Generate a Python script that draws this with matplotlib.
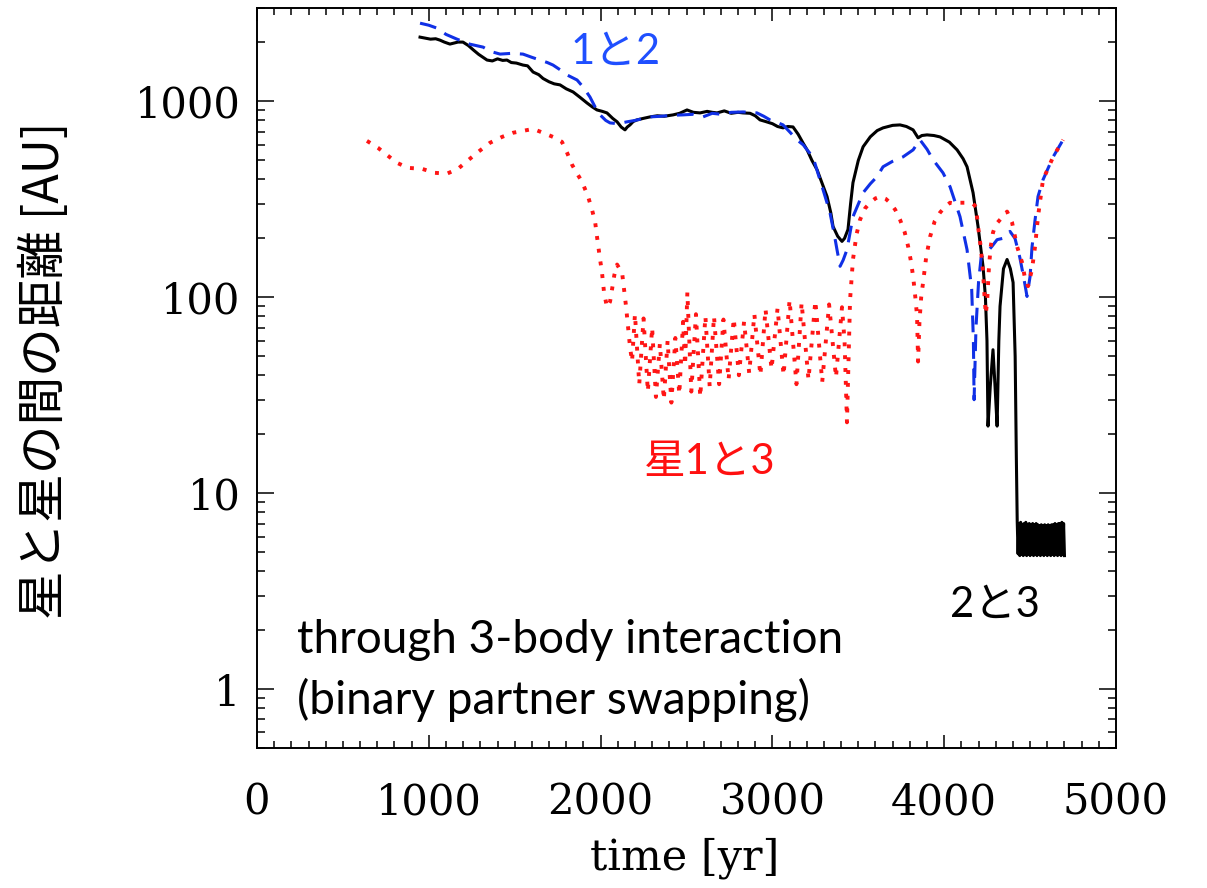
import matplotlib
matplotlib.use("Agg")
import matplotlib.pyplot as plt
from matplotlib.ticker import MultipleLocator, LogLocator, NullFormatter, FuncFormatter, FixedLocator

# ---------------- data ----------------
# black solid: separation of stars 2 and 3
black_t = [949, 985, 1010, 1040, 1065, 1090, 1123, 1150, 1170, 1199, 1230, 1260, 1290, 1339,
           1370, 1400, 1430, 1455, 1480, 1510, 1548, 1575, 1607, 1640, 1665, 1700, 1730, 1764,
           1800, 1840, 1880, 1921, 1950, 1979, 2010, 2037, 2070, 2096, 2120, 2142, 2155, 2171,
           2190, 2212, 2250, 2288, 2330, 2370, 2422, 2460, 2503, 2540, 2579, 2620, 2650, 2678,
           2720, 2760, 2800, 2829, 2870, 2900, 2928, 2960, 3000, 3030, 3062, 3090, 3120, 3150,
           3180, 3202, 3230, 3260, 3290, 3318, 3340, 3353, 3380, 3405, 3420, 3440, 3455, 3469,
           3500, 3528, 3570, 3610, 3644, 3700, 3743, 3780, 3819, 3835, 3848, 3870, 3900, 3940,
           3976, 4030, 4075, 4110, 4133, 4168, 4197, 4226, 4240, 4249, 4255, 4268, 4284, 4296,
           4308, 4318, 4325, 4345, 4366, 4385, 4401, 4413, 4420,
           4425, 4430, 4435, 4440, 4445, 4450, 4455, 4460, 4465, 4470, 4475, 4480, 4485, 4490,
           4495, 4500, 4505, 4510, 4515, 4520, 4525, 4530, 4535, 4540, 4545, 4550, 4555, 4560,
           4565, 4570, 4575, 4580, 4585, 4590, 4595, 4600, 4605, 4610, 4615, 4620, 4625, 4630,
           4635, 4640, 4645, 4650, 4655, 4660, 4665, 4670, 4675, 4680, 4685, 4690, 4695, 4700]
black_v = [2130, 2100, 2080, 2090, 2056, 2010, 1963, 1990, 2010, 2009, 1930, 1830, 1740, 1627,
           1610, 1650, 1620, 1627, 1580, 1570, 1534, 1520, 1413, 1370, 1310, 1260, 1230, 1215,
           1160, 1118, 1050, 982, 940, 905, 890, 874, 820, 787, 740, 716, 740, 759,
           790, 805, 820, 834, 845, 840, 854, 870, 905, 880, 874, 890, 880, 874,
           895, 870, 880, 874, 870, 845, 805, 790, 770, 745, 733, 745, 741, 680,
           610, 566, 500, 448, 380, 327, 270, 230, 205, 193, 200, 222, 300, 385,
           500, 587, 660, 710, 733, 755, 759, 745, 716, 680, 652, 670, 675, 670,
           659, 620, 566, 510, 464, 342, 230, 144, 100, 60, 22, 35, 54, 35,
           22, 60, 90, 140, 156, 140, 119, 50, 15,
           7.2, 4.9, 7.0, 4.8, 7.1, 4.9, 6.9, 4.8, 7.0, 4.9, 7.1, 4.8, 6.9, 4.9,
           7.0, 4.8, 6.9, 4.9, 7.0, 4.8, 6.9, 4.9, 7.0, 4.8, 6.9, 4.9, 6.8, 4.8,
           6.9, 4.9, 6.8, 4.8, 6.9, 4.9, 6.8, 4.8, 6.9, 4.9, 6.8, 4.8, 6.9, 4.9,
           6.9, 4.8, 7.0, 4.9, 6.9, 4.8, 7.0, 4.9, 7.0, 4.8, 7.1, 4.9, 7.0, 4.8]

# blue dashed: separation of stars 1 and 2
blue_t = [949, 1000, 1048, 1100, 1164, 1240, 1316, 1360, 1415, 1480, 1548, 1600, 1647, 1690,
          1723, 1765, 1805, 1863, 1900, 1938, 1970, 1997, 2030, 2055, 2100, 2154, 2200, 2288,
          2350, 2420, 2480, 2540, 2596, 2650, 2700, 2760, 2829, 2870, 2910, 2950, 2986, 3030,
          3062, 3100, 3143, 3180, 3202, 3236, 3265, 3295, 3335, 3360, 3376, 3394, 3412, 3434,
          3469, 3528, 3570, 3609, 3644, 3700, 3760, 3819, 3859, 3900, 3935, 3993, 4034, 4092,
          4133, 4160, 4170, 4174, 4185, 4200, 4215, 4249, 4278, 4308, 4342, 4383, 4412, 4440,
          4460, 4471, 4482, 4500, 4511, 4529, 4546, 4575, 4634, 4692]
blue_v = [2510, 2450, 2367, 2200, 2080, 1960, 1894, 1800, 1745, 1760, 1745, 1680, 1627, 1580,
          1534, 1450, 1365, 1287, 1180, 1054, 930, 854, 800, 777, 770, 787, 800, 834,
          840, 850, 854, 860, 834, 870, 860, 880, 884, 880, 874, 840, 805, 780,
          759, 700, 637, 600, 566, 521, 430, 354, 271, 210, 175, 144, 155, 175,
          258, 342, 380, 413, 464, 495, 521, 566, 637, 570, 504, 432, 367, 258,
          175, 110, 60, 30, 70, 120, 160, 170, 182, 197, 200, 217, 200, 160,
          130, 115, 101, 128, 180, 249, 327, 398, 521, 637]

# red dotted: separation of stars 1 and 3
red_t = [640, 704, 760, 815, 879, 960, 1036, 1106, 1170, 1211, 1281, 1356, 1426, 1490, 1548,
         1607, 1665, 1723, 1775, 1805, 1834, 1862, 1892, 1927, 1950, 1968, 1979, 1997, 2008,
         2020, 2037, 2055, 2080, 2096, 2110, 2125, 2148, 2171, 2183,
         2200, 2225, 2250, 2275, 2300, 2322, 2345, 2368, 2390, 2412, 2435, 2458, 2480, 2492,
         2505, 2528, 2555, 2580, 2610, 2635, 2660, 2690, 2715, 2745, 2775, 2805, 2835, 2865,
         2895, 2930, 2960, 2995, 3030, 3065, 3100, 3140, 3170, 3210, 3250, 3290, 3330, 3370,
         3405, 3420, 3434, 3440, 3452, 3469, 3490, 3510, 3540, 3568, 3600, 3627, 3660, 3685,
         3715, 3743, 3770, 3790, 3805, 3819, 3832, 3842, 3848, 3856, 3866, 3877, 3895, 3918,
         3945, 3976, 4005, 4034, 4070, 4092, 4133, 4168, 4185, 4197, 4213, 4226, 4235, 4242,
         4250, 4260, 4270, 4284, 4300, 4325, 4366, 4395, 4424, 4453, 4471, 4488, 4511, 4529,
         4546, 4575, 4634, 4692]
red_v = [629, 580, 530, 486, 458, 453, 432, 428, 453, 486, 547, 615, 659, 692, 708,
         724, 692, 659, 622, 547, 475, 430, 389, 327, 280, 243, 204, 156, 134,
         106, 89, 95, 130, 147, 140, 134, 90, 56, 47,
         82, 36, 78, 33, 70, 31, 58, 30, 60, 29, 62, 32, 75, 45,
         106, 33, 82, 31, 80, 35, 80, 36, 77, 38, 78, 40, 75, 41,
         82, 40, 87, 43, 88, 40, 97, 36, 94, 38, 96, 37, 92, 39,
         89, 60, 23, 37, 97, 156, 210, 249, 285, 304, 320, 327, 318, 304,
         280, 249, 215, 182, 155, 128, 100, 80, 47, 75, 100, 119, 160, 204,
         245, 271, 290, 304, 300, 304, 304, 300, 290, 230, 180, 134, 100, 82,
         95, 140, 180, 214, 235, 249, 274, 241, 182, 151, 124, 114, 139, 182,
         258, 398, 521, 637]

x_major = [0, 1000, 2000, 3000, 4000, 5000]
y_major = [1, 10, 100, 1000]

# ---------------- figure ----------------
W, H = 1207, 888
fig = plt.figure(figsize=(W / 100, H / 100), dpi=100)
L, R, T, B = 257, 1116, 8, 748
ax = fig.add_axes([L / W, 1 - B / H, (R - L) / W, (B - T) / H])

ax.plot(black_t, black_v, color="black", lw=2.2, solid_joinstyle="round", zorder=3)
ax.plot(blue_t, blue_v, color="#1030e6", lw=2.2, linestyle=(0, (5.5, 3.2)), zorder=4)
ax.plot(red_t, red_v, color="#ff1515", lw=2.8, linestyle=(0, (1, 2.3)),
        dash_capstyle="butt", zorder=5)

ax.set_yscale("log")
ax.set_xlim(0, 5000)
ax.set_ylim(0.5, 3000)

ax.xaxis.set_major_locator(FixedLocator(x_major))
ax.xaxis.set_minor_locator(MultipleLocator(100))
ax.yaxis.set_major_locator(FixedLocator(y_major))
ax.yaxis.set_minor_locator(LogLocator(base=10, subs=range(2, 10)))
ax.yaxis.set_minor_formatter(NullFormatter())
ax.yaxis.set_major_formatter(FuncFormatter(lambda v, p: f"{v:g}"))
ax.xaxis.set_major_formatter(FuncFormatter(lambda v, p: f"{v:g}"))

ax.tick_params(which="both", direction="in", top=True, right=True, width=1.1, colors="black")
ax.tick_params(axis="x", which="major", length=9.5, pad=24)
ax.tick_params(axis="x", which="minor", length=5)
ax.tick_params(axis="y", which="major", length=12.5, pad=12)
ax.tick_params(axis="y", which="minor", length=6)
for lab in ax.get_xticklabels() + ax.get_yticklabels():
    lab.set_fontfamily("DejaVu Serif")
    lab.set_fontsize(30)
for sp in ax.spines.values():
    sp.set_linewidth(1.4)

fig.text(685 / W, 1 - 858 / H, "time [yr]", ha="center", va="center",
         fontsize=31, family="DejaVu Serif")
fig.text(45 / W, 1 - 370 / H, "星と星の間の距離 [AU]", rotation=90, ha="center", va="center",
         fontsize=35, family=["Noto Sans CJK JP", "DejaVu Sans"])

mixed = ["Lato", "Noto Sans CJK JP"]
fig.text(616 / W, 1 - 52 / H, "1と2", ha="center", va="center", fontsize=30,
         color="#1f4fff", family=mixed)
fig.text(710 / W, 1 - 462 / H, "星1と3", ha="center", va="center", fontsize=30,
         color="#ff1010", family=mixed)
fig.text(995 / W, 1 - 605 / H, "2と3", ha="center", va="center", fontsize=30,
         color="black", family=mixed)
fig.text(297 / W, 1 - 640 / H, "through 3-body interaction", ha="left", va="center",
         fontsize=33, color="black", family=mixed)
fig.text(297 / W, 1 - 700 / H, "(binary partner swapping)", ha="left", va="center",
         fontsize=33, color="black", family=mixed)

fig.savefig("out.png", dpi=100, facecolor="white")
